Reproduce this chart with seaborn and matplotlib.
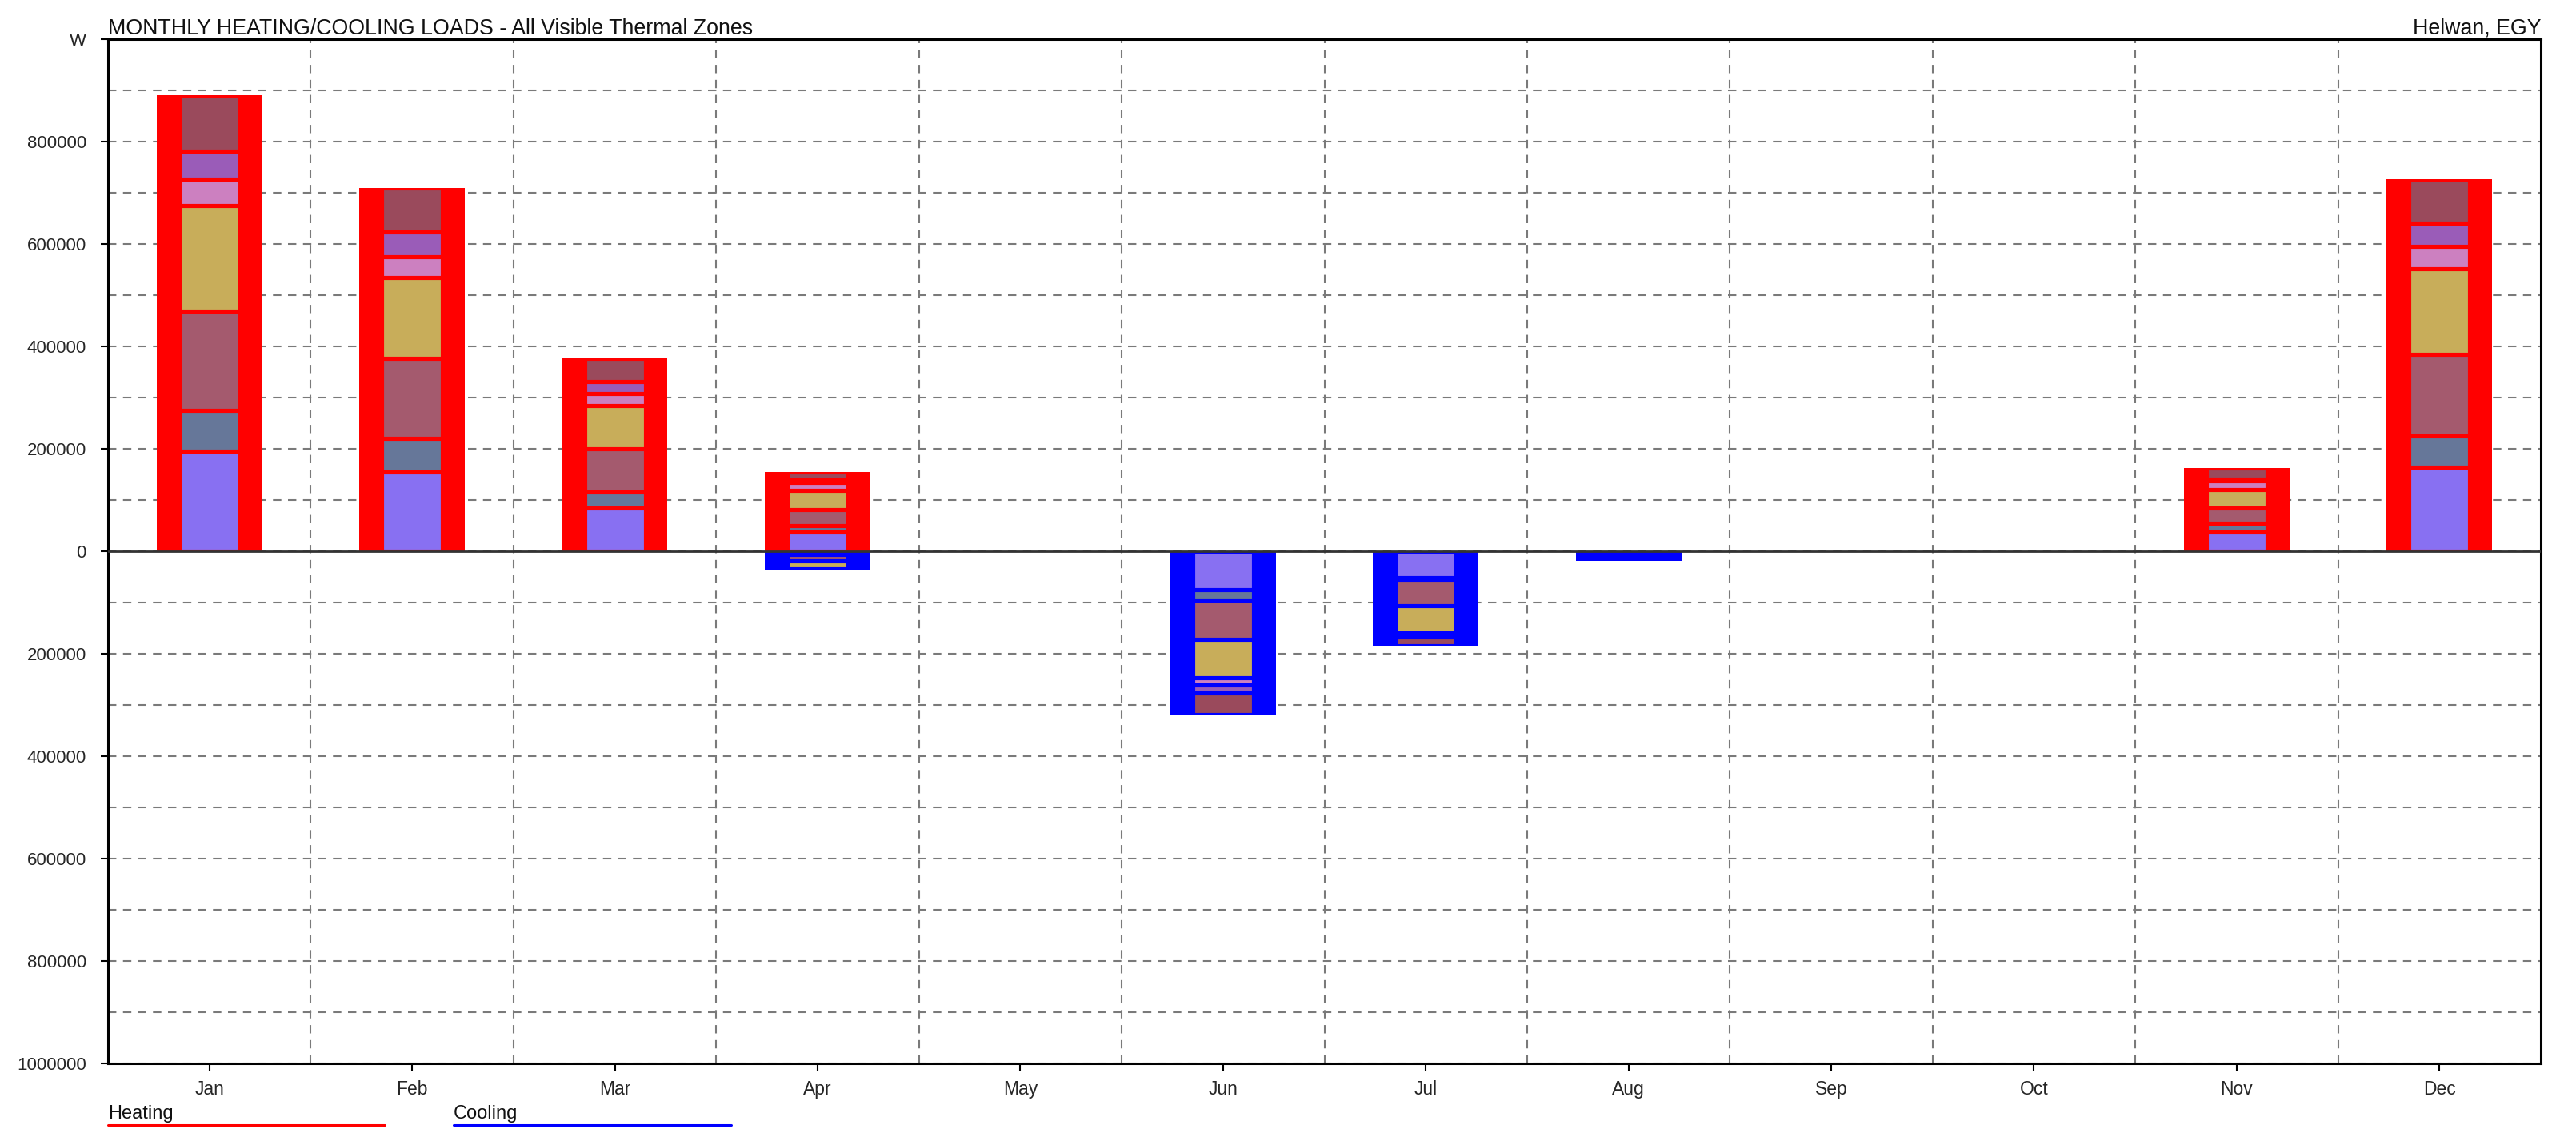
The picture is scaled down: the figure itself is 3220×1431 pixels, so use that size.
import numpy as np
import pandas as pd
import seaborn as sns
import matplotlib.pyplot as plt
from matplotlib.lines import Line2D

months = ["Jan", "Feb", "Mar", "Apr", "May", "Jun",
          "Jul", "Aug", "Sep", "Oct", "Nov", "Dec"]

# Heating loads per thermal zone (W), stacked bottom to top
heat_zone1 = [196000, 155000, 84000, 38000, 0, 0, 0, 0, 0, 0, 38000, 164000]
heat_zone2 = [79000, 65000, 32000, 12000, 0, 0, 0, 0, 0, 0, 16000, 61000]
heat_zone3 = [193000, 156000, 84000, 32000, 0, 0, 0, 0, 0, 0, 31000, 160000]
heat_zone4 = [207000, 159000, 84000, 37000, 0, 0, 0, 0, 0, 0, 36000, 167000]
heat_zone5 = [52000, 40000, 24000, 16000, 0, 0, 0, 0, 0, 0, 16000, 44000]
heat_zone6 = [55000, 48000, 24000, 4000, 0, 0, 0, 0, 0, 0, 4000, 44000]
heat_zone7 = [108000, 87000, 44000, 15000, 0, 0, 0, 0, 0, 0, 21000, 87000]

# Cooling loads per thermal zone (W), stacked downward from zero
cool_zone1 = [0, 0, 0, 5000, 0, 75000, 51000, 6000, 0, 0, 0, 0]
cool_zone2 = [0, 0, 0, 2000, 0, 20000, 4000, 2000, 0, 0, 0, 0]
cool_zone3 = [0, 0, 0, 12000, 0, 77000, 52000, 4000, 0, 0, 0, 0]
cool_zone4 = [0, 0, 0, 16000, 0, 75000, 52000, 4000, 0, 0, 0, 0]
cool_zone5 = [0, 0, 0, 1000, 0, 14000, 4000, 1000, 0, 0, 0, 0]
cool_zone6 = [0, 0, 0, 500, 0, 15000, 4000, 500, 0, 0, 0, 0]
cool_zone7 = [0, 0, 0, 500, 0, 42000, 18000, 500, 0, 0, 0, 0]

zone_colors = ["#8870F2", "#667799", "#A45A6E", "#C8AD5A",
               "#CC80C0", "#9A5CB8", "#9A4A5C"]

heat = np.array([heat_zone1, heat_zone2, heat_zone3, heat_zone4,
                 heat_zone5, heat_zone6, heat_zone7], dtype=float)
cool = np.array([cool_zone1, cool_zone2, cool_zone3, cool_zone4,
                 cool_zone5, cool_zone6, cool_zone7], dtype=float)

sns.set_theme(style="white")
plt.rcParams["font.family"] = ["Liberation Sans", "DejaVu Sans"]

W, H = 3220, 1431
fig = plt.figure(figsize=(W / 100, H / 100), dpi=100)
left, right, top, bottom = 135 / W, 3176 / W, 1 - 49 / H, 1 - 1329 / H
ax = fig.add_axes([left, bottom, right - left, top - bottom])


def draw_bars(values, color, width, edge=None, lw=0):
    n0 = len(ax.patches)
    sns.barplot(x=months, y=values, order=months, color=color, saturation=1,
                width=width, edgecolor=edge if edge else color, linewidth=lw,
                errorbar=None, ax=ax)
    return ax.patches[n0:]


def draw_stack(zones, sign, outer_color):
    outer = draw_bars(sign * zones.sum(axis=0), outer_color, 0.52)
    outer_by_month = {int(round(p.get_x() + p.get_width() / 2)): p for p in outer}
    for p in outer:
        if p.get_height() == 0:
            p.set_visible(False)
    cum = np.cumsum(zones, axis=0)
    # overlay cumulative bars from the top zone down; edges give the gaps
    for k in range(len(zones) - 1, -1, -1):
        for p in draw_bars(sign * cum[k], zone_colors[k], 0.30, outer_color, 3.7):
            if p.get_height() == 0:
                p.set_visible(False)
                continue
            p.set_clip_path(outer_by_month[int(round(p.get_x() + p.get_width() / 2))])


draw_stack(heat, 1, "#FF0000")
draw_stack(cool, -1, "#0000FF")

ax.axhline(0, color="#333333", lw=2.0, zorder=3)

ax.set_xlim(-0.5, 11.5)
ax.set_ylim(-1e6, 1e6)
yt = np.arange(-1e6, 1e6 + 1, 2e5)
ax.set_yticks(yt)
ax.set_yticklabels([f"{abs(int(round(v)))}" for v in yt[:-1]] + ["W"])
ax.set_yticks(np.arange(-9e5, 1e6, 2e5), minor=True)
ax.set_xticks(np.arange(0.5, 11, 1), minor=True)
ax.set_xlabel("")
ax.set_ylabel("")

ax.set_axisbelow(True)
grid_kw = dict(color="#7a7a7a", linestyle=(0, (5, 4)), linewidth=1.5)
ax.grid(False)
ax.yaxis.grid(True, which="both", **grid_kw)
ax.xaxis.grid(True, which="minor", **grid_kw)

ax.tick_params(axis="y", which="major", length=6.5, width=1.5, direction="out",
               pad=13, labelsize=16, color="black", left=True)
ax.tick_params(axis="x", which="major", length=7, width=1.5, direction="out",
               pad=8, labelsize=16.5, color="black", bottom=True)
ax.tick_params(which="minor", length=0)

for s in ax.spines.values():
    s.set_visible(True)
    s.set_color("black")
    s.set_linewidth(2.2)

title_y = 1 - 43 / H
fig.text(left, title_y, "MONTHLY HEATING/COOLING LOADS - All Visible Thermal Zones",
         ha="left", va="baseline", fontsize=19.3, color="#111111")
fig.text(right, title_y, "Helwan, EGY", ha="right", va="baseline",
         fontsize=19.3, color="#111111")

# legend under the axis
leg_text_y = 1 - 1398 / H
leg_line_y = 1 - 1406 / H
for x0, x1, label, c in [(135, 481, "Heating", "#FF0000"),
                         (567, 914, "Cooling", "#0000FF")]:
    fig.text(x0 / W, leg_text_y, label, ha="left", va="baseline", fontsize=17,
             color="#111111")
    fig.add_artist(Line2D([x0 / W, x1 / W], [leg_line_y, leg_line_y], color=c,
                          lw=2.2, transform=fig.transFigure))

fig.savefig("out.png", dpi=100, facecolor="white")
